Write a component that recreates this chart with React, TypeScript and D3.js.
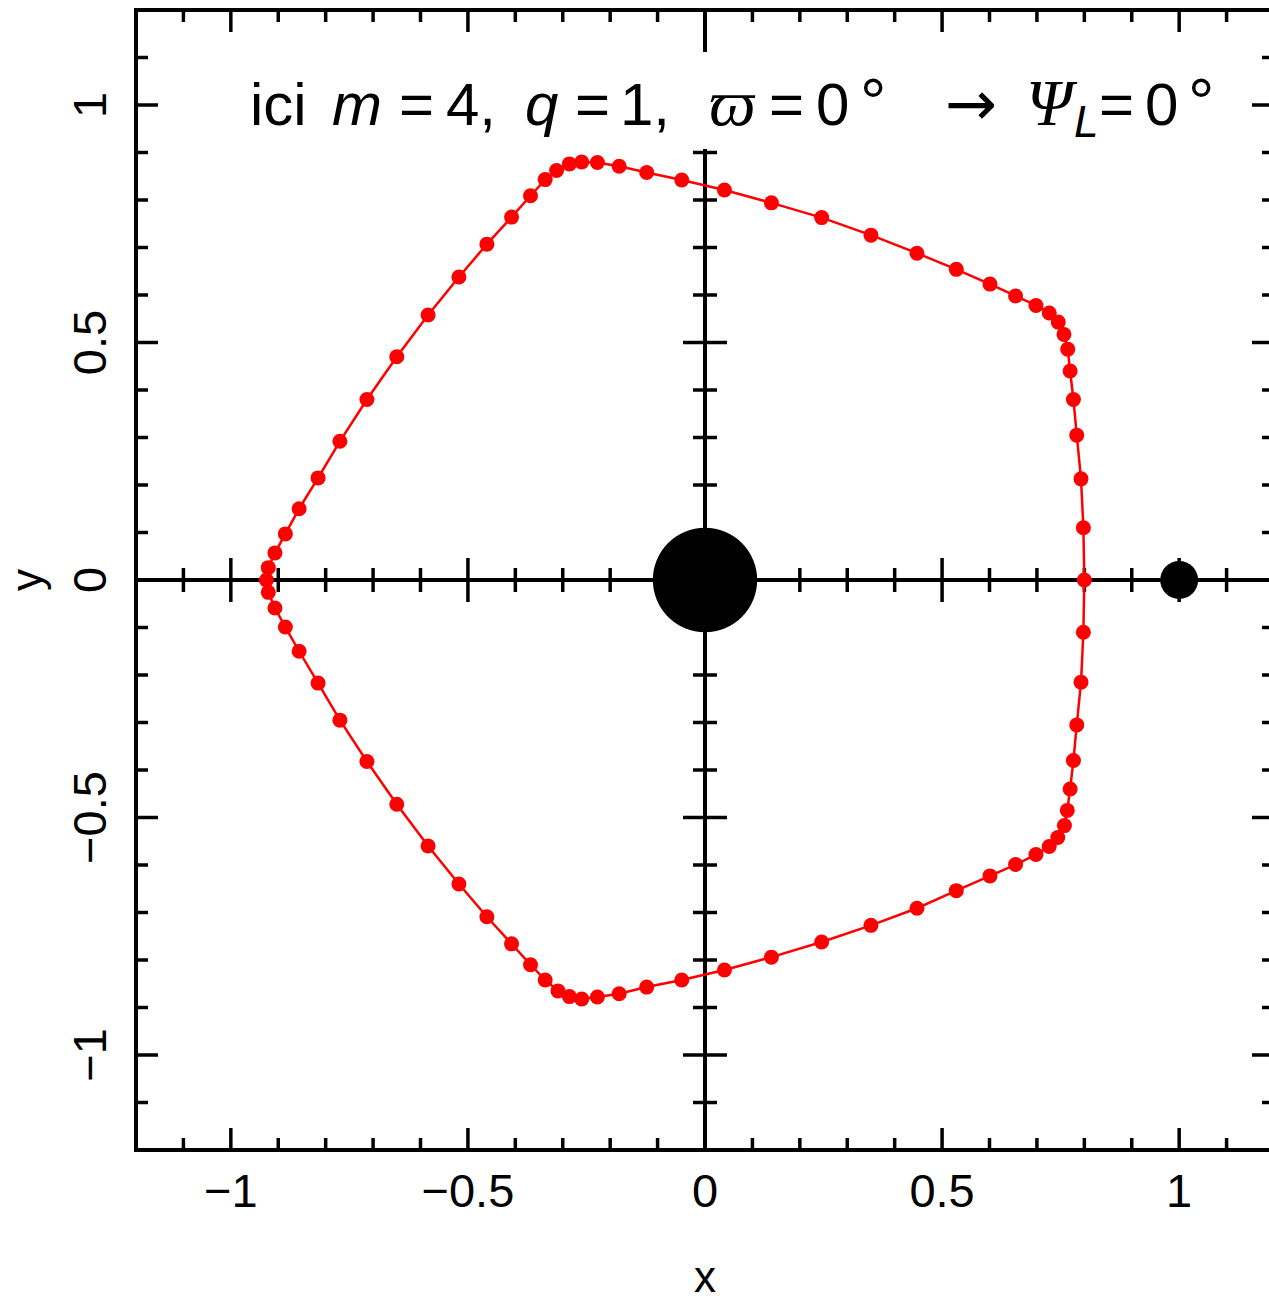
import React from "react";
import * as d3 from "d3";

// Orbit trace (upper arc from the right crossing, then lower arc back)
const orbitX = [
  0.8, 0.798, 0.793, 0.784, 0.777, 0.77, 0.765, 0.757, 0.745, 0.726, 0.698, 0.655, 0.601, 0.53, 0.447,
  0.35, 0.246, 0.14, 0.041, -0.049, -0.123, -0.181, -0.227, -0.26, -0.286, -0.313, -0.337, -0.368,
  -0.408, -0.46, -0.519, -0.584, -0.65, -0.713, -0.77, -0.816, -0.856, -0.885, -0.907, -0.921, -0.925,
  -0.921, -0.907, -0.885, -0.856, -0.816, -0.77, -0.713, -0.65, -0.584, -0.519, -0.46, -0.408, -0.368,
  -0.337, -0.31, -0.286, -0.26, -0.227, -0.181, -0.123, -0.049, 0.041, 0.14, 0.246, 0.35, 0.447, 0.53,
  0.601, 0.655, 0.698, 0.726, 0.744, 0.758, 0.764, 0.77, 0.777, 0.784, 0.793, 0.798,
];
const orbitY = [
  0.0, 0.11, 0.213, 0.305, 0.38, 0.44, 0.486, 0.517, 0.543, 0.562, 0.578, 0.598, 0.623, 0.654, 0.688,
  0.726, 0.763, 0.794, 0.821, 0.842, 0.858, 0.871, 0.879, 0.88, 0.876, 0.862, 0.843, 0.809, 0.764,
  0.707, 0.638, 0.558, 0.47, 0.38, 0.292, 0.215, 0.15, 0.097, 0.057, 0.026, 0.0,
  -0.026, -0.059, -0.099, -0.15, -0.217, -0.295, -0.382, -0.472, -0.56, -0.64, -0.709, -0.766, -0.81,
  -0.842, -0.865, -0.877, -0.882, -0.878, -0.871, -0.857, -0.842, -0.821, -0.794, -0.762, -0.727,
  -0.691, -0.654, -0.623, -0.599, -0.578, -0.561, -0.542, -0.517, -0.485, -0.44, -0.38, -0.305, -0.215,
  -0.11,
];

// Primary and secondary bodies
const bodyX = [0, 1];
const bodyY = [0, 0];
const bodyRadius = [0.11, 0.04];

// Axes
const domain = [-1.2, 1.2];
const majorTicks = [-1, -0.5, 0, 0.5, 1];
const majorLabels = ["\u22121", "\u22120.5", "0", "0.5", "1"];
const minorTicks = d3.range(-11, 12).map((i) => i / 10);

const SANS = "'Liberation Sans', Arial, Helvetica, sans-serif";
const SERIF = "'Liberation Serif', 'DejaVu Serif', 'Times New Roman', serif";

export default function App() {
  const W = 1269;
  const H = 1301;
  const left = 136;
  const right = 1274;
  const top = 10;
  const bottom = 1150;

  const x = d3.scaleLinear().domain(domain).range([left, right]);
  const y = d3.scaleLinear().domain(domain).range([bottom, top]);

  const pts = orbitX.map((v, i) => [v, orbitY[i]] as [number, number]);
  const line = d3
    .line<[number, number]>()
    .x((d) => x(d[0]))
    .y((d) => y(d[1]))
    .curve(d3.curveLinearClosed);

  const isMajor = (t: number) => Math.abs(t * 2 - Math.round(t * 2)) < 1e-6;
  const tl = (t: number) => (isMajor(t) ? 22 : 12);
  const tickW = 3.5;
  const frameW = 4;

  const x0 = x(0);
  const y0 = y(0);

  return (
    <svg
      width={W}
      height={H}
      style={{ position: "absolute", left: 0, top: 0, background: "#fff" }}
    >
      <rect x={0} y={0} width={W} height={H} fill="#fff" />

      {/* central cross axes */}
      <g stroke="#000" strokeWidth={tickW}>
        <line x1={left} x2={right} y1={y0} y2={y0} strokeWidth={frameW} />
        <line x1={x0} x2={x0} y1={top} y2={bottom} strokeWidth={frameW} />
        {minorTicks
          .filter((t) => Math.abs(t) > 1e-6)
          .map((t) => (
            <g key={"c" + t}>
              <line x1={x(t)} x2={x(t)} y1={y0 - tl(t)} y2={y0 + tl(t)} />
              <line x1={x0 - tl(t)} x2={x0 + tl(t)} y1={y(t)} y2={y(t)} />
            </g>
          ))}
      </g>

      {/* frame ticks */}
      <g stroke="#000" strokeWidth={tickW}>
        {minorTicks.map((t) => (
          <g key={"f" + t}>
            <line x1={x(t)} x2={x(t)} y1={bottom} y2={bottom - tl(t)} />
            <line x1={x(t)} x2={x(t)} y1={top} y2={top + tl(t)} />
            <line x1={left} x2={left + tl(t)} y1={y(t)} y2={y(t)} />
            <line x1={right} x2={right - tl(t)} y1={y(t)} y2={y(t)} />
          </g>
        ))}
      </g>
      <rect
        x={left}
        y={top}
        width={right - left}
        height={bottom - top}
        fill="none"
        stroke="#000"
        strokeWidth={frameW}
      />

      {/* annotation */}
      <rect x={238} y={52} width={978} height={97} fill="#fff" />
      <text fontFamily={SANS} fontSize={60} y={125} fill="#000">
        <tspan x={250}>ici</tspan>
        <tspan x={332} fontStyle="italic">m</tspan>
        <tspan x={399}>=</tspan>
        <tspan x={446}>4,</tspan>
        <tspan x={525} fontStyle="italic">q</tspan>
        <tspan x={575}>=</tspan>
        <tspan x={620}>1,</tspan>
        <tspan x={709} fontFamily={SERIF} fontStyle="italic" fontSize={66}>{"\u03D6"}</tspan>
        <tspan x={769}>=</tspan>
        <tspan x={816}>0</tspan>
        <tspan x={860} fontSize={66}>°</tspan>
        <tspan x={945} fontFamily="'DejaVu Sans', sans-serif" fontSize={62}>{"\u2192"}</tspan>
        <tspan x={1026} fontFamily={SERIF} fontStyle="italic" fontSize={66}>{"\u03A8"}</tspan>
        <tspan x={1074} dy={12} fontSize={44} fontStyle="italic">L</tspan>
        <tspan x={1099} dy={-12}>=</tspan>
        <tspan x={1145}>0</tspan>
        <tspan x={1188} fontSize={66}>°</tspan>
      </text>

      {/* orbit */}
      <path d={line(pts) ?? ""} fill="none" stroke="#ff0000" strokeWidth={2.5} />
      {pts.map((d, i) => (
        <circle key={i} cx={x(d[0])} cy={y(d[1])} r={7.5} fill="#ff0000" />
      ))}

      {/* bodies */}
      {bodyX.map((bx, i) => (
        <circle
          key={"b" + i}
          cx={x(bx)}
          cy={y(bodyY[i])}
          r={x(bodyRadius[i]) - x(0)}
          fill="#000"
        />
      ))}

      {/* tick labels */}
      <g fontFamily={SANS} fontSize={47} fill="#000">
        {majorTicks.map((t, i) => (
          <text key={"xl" + t} x={x(t)} y={1207} textAnchor="middle">
            {majorLabels[i]}
          </text>
        ))}
        {majorTicks.map((t, i) => (
          <text
            key={"yl" + t}
            transform={`translate(106,${y(t)}) rotate(-90)`}
            textAnchor="middle"
          >
            {majorLabels[i]}
          </text>
        ))}
      </g>

      {/* axis titles */}
      <text x={x0} y={1292} fontFamily={SANS} fontSize={44} textAnchor="middle">
        x
      </text>
      <text
        transform={`translate(42,${y0}) rotate(-90)`}
        fontFamily={SANS}
        fontSize={44}
        textAnchor="middle"
      >
        y
      </text>
    </svg>
  );
}
